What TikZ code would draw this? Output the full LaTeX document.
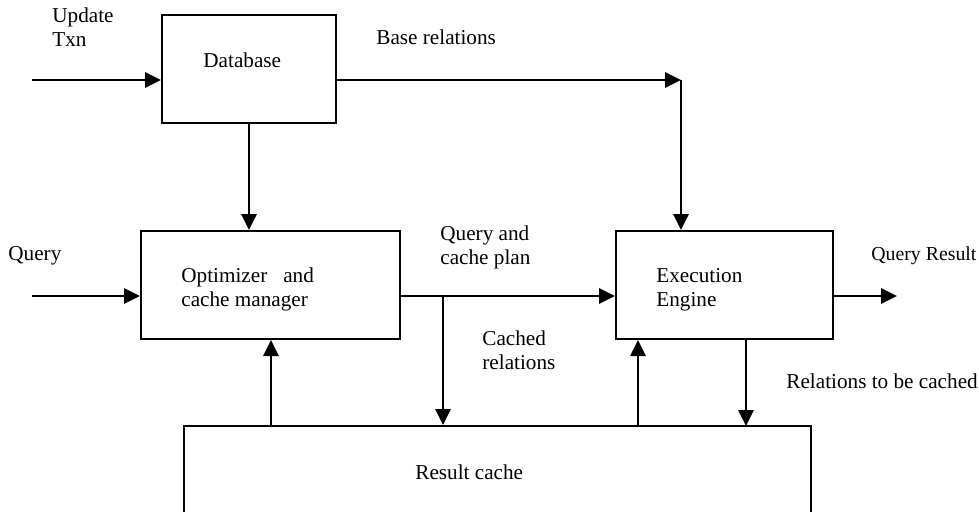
\documentclass[tikz,border=0pt]{standalone}
\usepackage{fontspec}
\setmainfont{Liberation Serif}
\usetikzlibrary{arrows.meta}
\begin{document}
\begin{tikzpicture}[x=0.5pt,y=-0.5pt,
  box/.style={draw,line width=1pt,inner sep=0pt,rectangle},
  txt/.style={inner sep=0pt,anchor=base west,align=left,font=\fontsize{10.6}{12}\selectfont},
  arr/.style={line width=1.35pt,-{Triangle[length=8pt,width=7.5pt]}},
  ln/.style={line width=1.35pt}]
\useasboundingbox (0,0) rectangle (979,511);
\clip (0,0) rectangle (979,511);
% boxes
\node[box,minimum width=87pt,minimum height=54pt] (db) at (249,69) {};
\node[box,minimum width=129.5pt,minimum height=54pt] (opt) at (270.5,285) {};
\node[box,minimum width=108.5pt,minimum height=54pt] (ee) at (724.5,285) {};
\node[box,minimum width=313.5pt,minimum height=80pt] (rc) at (497.5,506) {};
% texts
\node[txt] (tupd) at (52,46) {Update\\Txn};
\node[txt] (tdb) at (203,67) {Database};
\node[txt] (tbase) at (376,44) {Base relations};
\node[txt] (tq) at (8,260) {Query};
\node[txt] (topt) at (181,306) {Optimizer~~~and\\cache manager};
\node[txt] (tqcp) at (440,264) {Query and\\cache plan};
\node[txt] (tcr) at (482,369) {Cached\\relations};
\node[txt] (tee) at (656,306) {Execution\\Engine};
\node[txt,font=\fontsize{9.9}{12}\selectfont] (tqr) at (871,260) {Query Result};
\node[txt] (trc) at (786,388) {Relations to be cached};
\node[txt] (tres) at (415,479) {Result cache};
% coordinates
\coordinate (u) at (32,80);
\coordinate (br) at (681,80);
\coordinate (q) at (32,296);
\coordinate (j) at (443,296);
\coordinate (qr) at (897,296);
\coordinate (c1) at (271,426);
\coordinate (c2) at (638,426);
\coordinate (c3) at (746,426);
% connectors
\draw[arr] (u) -- (u -| db.west);
\draw[arr] (db.east |- br) -- (br);
\draw[arr] (br) -- (br |- ee.north);
\draw[arr] (db.south) -- (db.south |- opt.north);
\draw[arr] (q) -- (q -| opt.west);
\draw[arr] (opt.east |- q) -- (ee.west |- q);
\draw[arr] (j) -- (j |- rc.north);
\draw[arr] (ee.east |- qr) -- (qr);
\draw[arr] (c1) -- (c1 |- opt.south);
\draw[arr] (c2) -- (c2 |- ee.south);
\draw[arr] (c3 |- ee.south) -- (c3);
\end{tikzpicture}
\end{document}
